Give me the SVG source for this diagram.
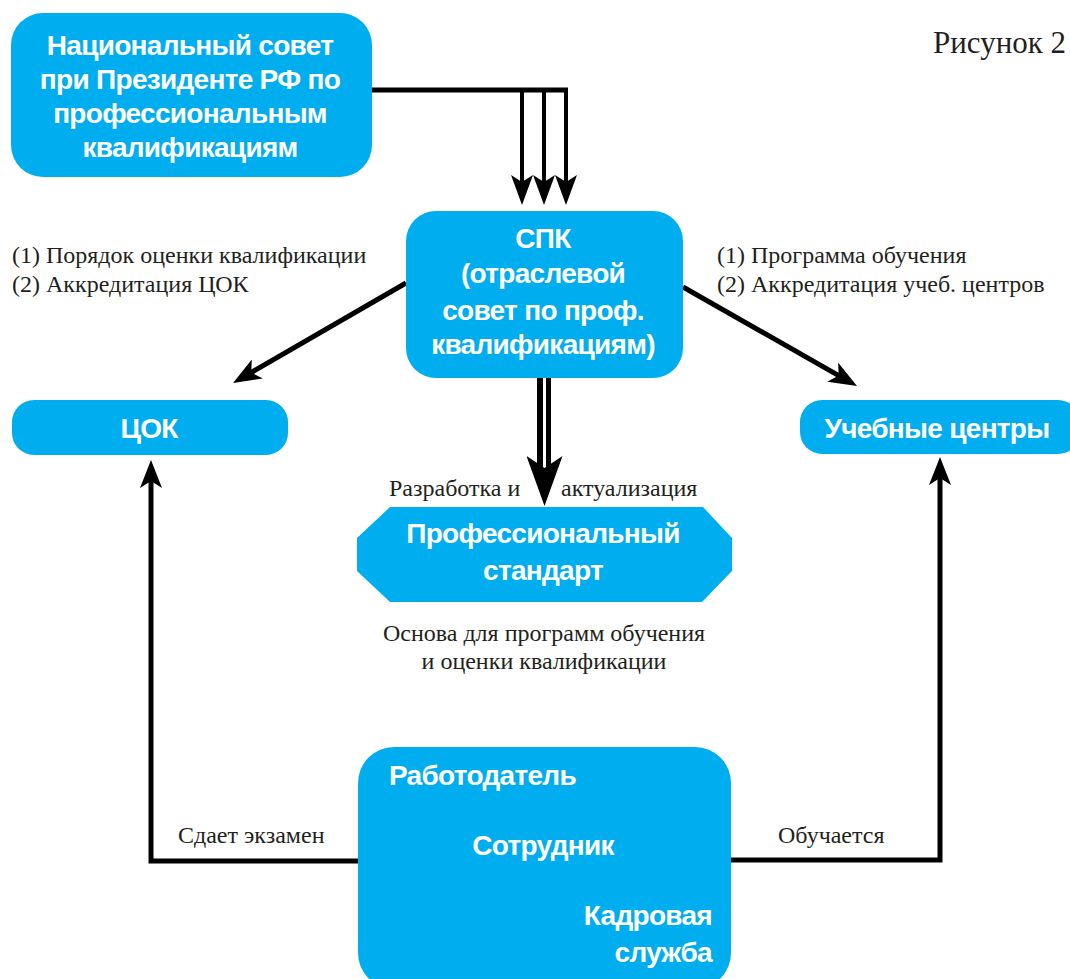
<svg xmlns="http://www.w3.org/2000/svg" width="1070" height="979" viewBox="0 0 1070 979">
<style>
.box{fill:#00AEEF}
.bt{font-family:"Liberation Sans",Arial,sans-serif;font-weight:bold;font-size:28px;fill:#fff;letter-spacing:-0.7px}
.lb{font-family:"Liberation Serif","Times New Roman",serif;font-size:24px;fill:#231f20}
.ln{fill:none;stroke:#000;stroke-width:5}
.th{stroke-width:4}
</style>
<defs>
<marker id="ah" markerUnits="userSpaceOnUse" viewBox="0 0 28 22" markerWidth="28" markerHeight="22" refX="9" refY="11" orient="auto">
<path d="M0,0 L28,11 L0,22 L7,11 Z" fill="#000"/>
</marker>
<marker id="ah2" markerUnits="userSpaceOnUse" viewBox="0 0 30 22" markerWidth="30" markerHeight="22" refX="9" refY="11" orient="auto">
<path d="M0,0 L30,11 L0,22 L7,11 Z" fill="#000"/>
</marker>
<marker id="big" markerUnits="userSpaceOnUse" viewBox="0 0 50 36" markerWidth="50" markerHeight="36" refX="14" refY="18" orient="auto">
<path d="M0,0 L50,18 L0,36 L12,18 Z" fill="#000"/>
</marker>
</defs>
<rect width="1070" height="979" fill="#fff"/>

<text class="lb" x="933" y="53" style="font-size:31px">Рисунок 2</text>

<g id="connectors">
<path class="ln" d="M372,90 H568"/>
<path class="ln th" d="M522,88 V184" marker-end="url(#ah2)"/>
<path class="ln th" d="M544,88 V184" marker-end="url(#ah2)"/>
<path class="ln th" d="M566,88 V184" marker-end="url(#ah2)"/>
<path class="ln" d="M406,283 L249.5,373.5" marker-end="url(#ah)"/>
<path class="ln" d="M683,287 L840.5,376.6" marker-end="url(#ah)"/>
<path d="M544,378 V470" stroke="#000" stroke-width="14" fill="none"/>
<path d="M544.5,378 V470" stroke="#fff" stroke-width="3" fill="none" marker-end="url(#big)"/>
<path class="ln" d="M358,861 H151 V479" marker-end="url(#ah)"/>
<path class="ln" d="M731,860 H940 V476" marker-end="url(#ah)"/>
<text class="lb" x="12" y="263">(1) Порядок оценки квалификации</text>
<text class="lb" x="12" y="292">(2) Аккредитация ЦОК</text>
<text class="lb" x="717" y="263">(1) Программа обучения</text>
<text class="lb" x="717" y="292">(2) Аккредитация учеб. центров</text>
<text class="lb" x="389" y="496">Разработка и</text>
<text class="lb" x="561" y="496">актуализация</text>
<text class="lb" x="544" y="641" text-anchor="middle">Основа для программ обучения</text>
<text class="lb" x="544" y="669" text-anchor="middle">и оценки квалификации</text>
<text class="lb" x="178" y="843">Сдает экзамен</text>
<text class="lb" x="778" y="843">Обучается</text>
</g>

<g id="nac">
<rect class="box" x="11" y="13" width="361" height="164" rx="32"/>
<text class="bt" x="190" y="55" text-anchor="middle">Национальный совет</text>
<text class="bt" x="190" y="89" text-anchor="middle">при Президенте РФ по</text>
<text class="bt" x="190" y="123" text-anchor="middle">профессиональным</text>
<text class="bt" x="190" y="157" text-anchor="middle">квалификациям</text>
</g>

<g id="spk">
<rect class="box" x="406" y="211" width="277" height="167" rx="30"/>
<text class="bt" x="543" y="248" text-anchor="middle">СПК</text>
<text class="bt" x="543" y="283" text-anchor="middle">(отраслевой</text>
<text class="bt" x="543" y="320" text-anchor="middle">совет по проф.</text>
<text class="bt" x="543" y="354" text-anchor="middle">квалификациям)</text>
</g>

<g id="cok">
<rect class="box" x="12" y="400" width="276" height="55" rx="22"/>
<text class="bt" x="149" y="438" text-anchor="middle">ЦОК</text>
</g>

<g id="uc">
<rect class="box" x="800" y="400" width="280" height="54" rx="22"/>
<text class="bt" x="937" y="438" text-anchor="middle">Учебные центры</text>
</g>

<g id="ps">
<polygon class="box" points="390,507 703,507 732,538 732,571 702,602 390,602 357,571 357,538"/>
<text class="bt" x="543" y="543" text-anchor="middle">Профессиональный</text>
<text class="bt" x="543" y="580" text-anchor="middle">стандарт</text>
</g>

<g id="emp">
<rect class="box" x="358" y="747" width="373" height="242" rx="36"/>
<text class="bt" x="389" y="785">Работодатель</text>
<text class="bt" x="543" y="855" text-anchor="middle">Сотрудник</text>
<text class="bt" x="712" y="925" text-anchor="end">Кадровая</text>
<text class="bt" x="712" y="962" text-anchor="end">служба</text>
</g>
</svg>
